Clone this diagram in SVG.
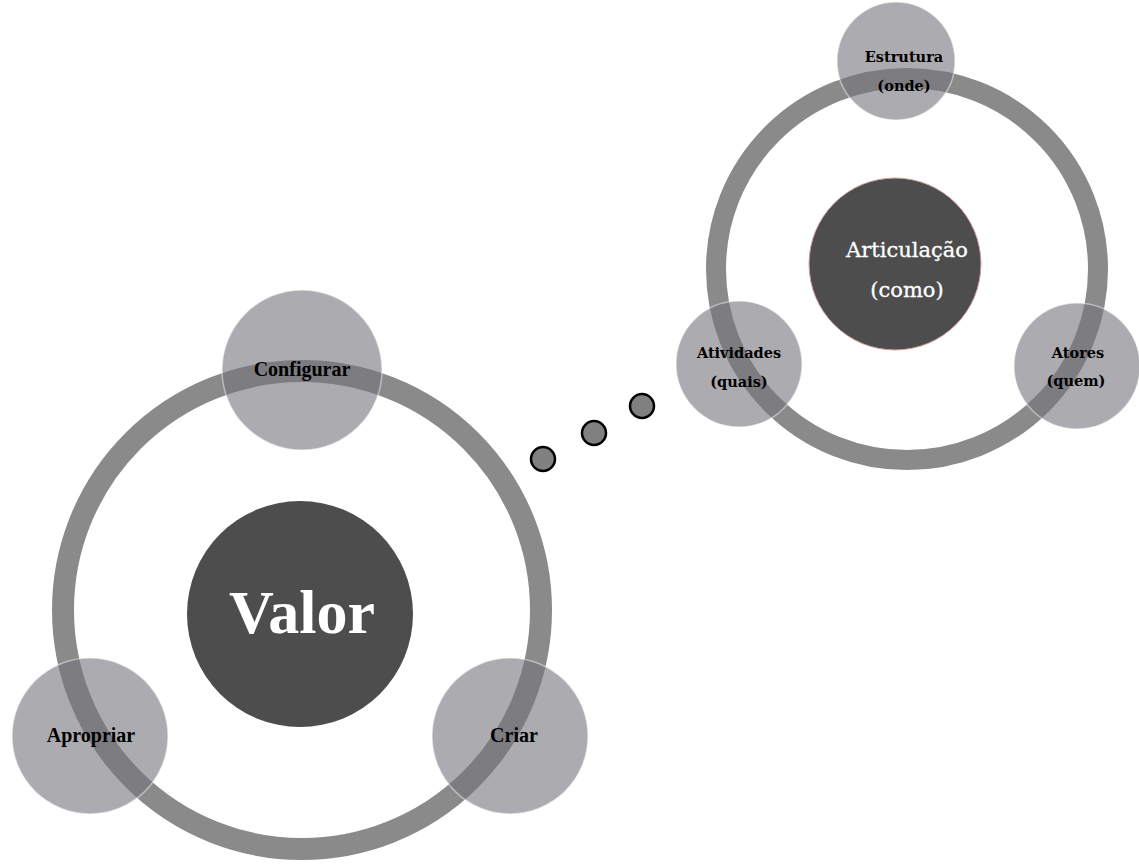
<svg xmlns="http://www.w3.org/2000/svg" width="1139" height="864" viewBox="0 0 1139 864">
  <style>
    .ring { fill: none; stroke: #8a8a8b; }
    .sat { fill: #74737a; fill-opacity: 0.6; stroke: #ffffff; stroke-opacity: 0.45; stroke-width: 1.5; }
    .core { fill: #4d4d4d; }
    .dot { fill: #808080; stroke: #000000; stroke-width: 2.5; }
    .lbl { font-family: "Liberation Serif", "Times New Roman", serif; font-weight: bold; fill: #000000; text-anchor: middle; }
    .lbl2 { font-family: "DejaVu Serif", "Liberation Serif", serif; font-weight: bold; fill: #000000; text-anchor: middle; }
    .core-txt { font-family: "Liberation Serif", "Times New Roman", serif; font-weight: bold; fill: #ffffff; text-anchor: middle; }
    .core-txt2 { font-family: "DejaVu Serif", "Liberation Serif", serif; fill: #ffffff; stroke: #ffffff; stroke-width: 0.3; text-anchor: middle; }
  </style>

  <!-- Left cycle: Valor -->
  <g id="valor-cycle">
    <circle class="ring" cx="302" cy="610" r="239" stroke-width="22"/>
    <g id="valor">
      <circle class="core" cx="300" cy="614" r="113"/>
      <text class="core-txt" x="302" y="633" font-size="62">Valor</text>
    </g>
    <g id="configurar">
      <circle class="sat" cx="302" cy="370" r="80"/>
      <text class="lbl" x="302" y="376" font-size="20">Configurar</text>
    </g>
    <g id="apropriar">
      <circle class="sat" cx="90" cy="736" r="78"/>
      <text class="lbl" x="91" y="742" font-size="20">Apropriar</text>
    </g>
    <g id="criar">
      <circle class="sat" cx="510" cy="736" r="78"/>
      <text class="lbl" x="514" y="742" font-size="20">Criar</text>
    </g>
  </g>

  <!-- Connector: three dots -->
  <g id="connectors">
    <circle class="dot" cx="543" cy="459" r="12"/>
    <circle class="dot" cx="594" cy="433" r="12"/>
    <circle class="dot" cx="642" cy="406" r="12"/>
  </g>

  <!-- Right cycle: Articulação -->
  <g id="articulacao-cycle">
    <circle class="ring" cx="907" cy="269" r="191" stroke-width="20"/>
    <g id="articulacao">
      <circle class="core" cx="895" cy="264" r="86" stroke="#d9a3a3" stroke-width="1"/>
      <text class="core-txt2" x="907" y="257" font-size="21">Articulação</text>
      <text class="core-txt2" x="907" y="297" font-size="21">(como)</text>
    </g>
    <g id="estrutura">
      <circle class="sat" cx="896" cy="61" r="59"/>
      <text class="lbl2" x="904" y="62" font-size="14.5">Estrutura</text>
      <text class="lbl2" x="904" y="91" font-size="14.5">(onde)</text>
    </g>
    <g id="atividades">
      <circle class="sat" cx="739" cy="364" r="63"/>
      <text class="lbl2" x="739" y="358" font-size="14.5">Atividades</text>
      <text class="lbl2" x="739" y="387" font-size="14.5">(quais)</text>
    </g>
    <g id="atores">
      <circle class="sat" cx="1077" cy="366" r="63"/>
      <text class="lbl2" x="1078" y="358" font-size="14.5">Atores</text>
      <text class="lbl2" x="1076" y="386" font-size="14.5">(quem)</text>
    </g>
  </g>
</svg>
